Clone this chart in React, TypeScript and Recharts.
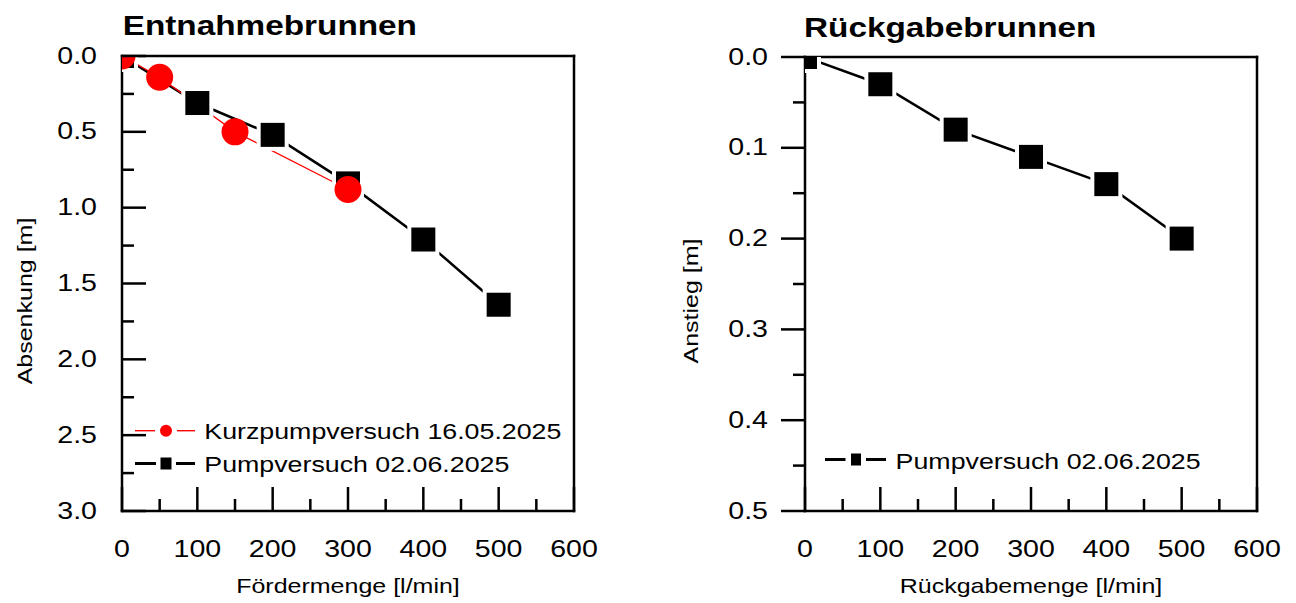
import { Legend, Line, LineChart, XAxis, YAxis } from "recharts"

const FONT = '"Liberation Sans", Arial, sans-serif'
// the source lettering is a wide Arial, about 1.19x wider than normal
const STRETCH = 1.19

// Entnahmebrunnen
const shortTestRates = [0, 50, 150, 300]
const shortTestDrawdown = [0, 0.14, 0.5, 0.88]
const pumpRates = [0, 100, 200, 300, 400, 500]
const pumpDrawdown = [0, 0.31, 0.52, 0.84, 1.21, 1.64]

// Rückgabebrunnen
const returnRates = [0, 100, 200, 300, 400, 500]
const returnRise = [0, 0.03, 0.08, 0.11, 0.14, 0.2]

const rateTicks = [0, 50, 100, 150, 200, 250, 300, 350, 400, 450, 500, 550, 600]
const drawdownTicks = [0, 0.25, 0.5, 0.75, 1, 1.25, 1.5, 1.75, 2, 2.25, 2.5, 2.75, 3]
const riseTicks = [0, 0.05, 0.1, 0.15, 0.2, 0.25, 0.3, 0.35, 0.4, 0.45, 0.5]

const shortTestLabel = "Kurzpumpversuch 16.05.2025"
const pumpTestLabel = "Pumpversuch 02.06.2025"

const shortTestData = shortTestRates.map((x, i) => ({ x, y: shortTestDrawdown[i] }))
const pumpData = pumpRates.map((x, i) => ({ x, y: pumpDrawdown[i] }))
const returnData = returnRates.map((x, i) => ({ x, y: returnRise[i] }))

type TxtProps = {
  x: number
  y: number
  size: number
  anchor?: "start" | "middle" | "end"
  bold?: boolean
  rotate?: number
  children: string
}

function Txt({ x, y, size, anchor = "start", bold, rotate = 0, children }: TxtProps) {
  return (
    <text
      transform={`translate(${x} ${y}) rotate(${rotate}) scale(${STRETCH} 1)`}
      textAnchor={anchor}
      fontSize={size}
      fontWeight={bold ? 700 : 400}
      fontFamily={FONT}
      fill="#000"
    >
      {children}
    </text>
  )
}

type Side = "bottom" | "top" | "left" | "right"

function tickRenderer(side: Side, step: number, labels: boolean, outward = false, labelGap = 25) {
  return (props: any) => {
    const { x, y, payload } = props
    const v = Number(payload.value)
    const major = Math.abs(v / step - Math.round(v / step)) < 1e-6
    const len = major ? 24 : 12
    let x2 = x
    let y2 = y
    if (side === "bottom") y2 = y - len
    else if (side === "top") y2 = y + len
    else if (side === "left") x2 = outward ? x - len : x + len
    else x2 = x - len

    let label = null
    if (labels && major) {
      if (side === "bottom") {
        label = <Txt x={x} y={y + 46} size={24} anchor="middle">{String(v)}</Txt>
      } else if (side === "left") {
        label = <Txt x={x - labelGap} y={y + 7.5} size={24} anchor="end">{v.toFixed(1)}</Txt>
      }
    }
    return (
      <g>
        <line x1={x} y1={y} x2={x2} y2={y2} stroke="#000" strokeWidth={2.5} />
        {label}
      </g>
    )
  }
}

function squareDot(size: number) {
  return (p: any) => {
    if (p.cx == null || p.cy == null) return <g key={p.index} />
    const gap = 4
    return (
      <g key={p.index}>
        <rect x={p.cx - size / 2 - gap} y={p.cy - size / 2 - gap} width={size + gap * 2} height={size + gap * 2} fill="#fff" />
        <rect x={p.cx - size / 2} y={p.cy - size / 2} width={size} height={size} fill="#000" />
      </g>
    )
  }
}

const frame = { stroke: "#000", strokeWidth: 2.5, strokeLinecap: "square" as const }

function LeftLegend() {
  return (
    <svg width={470} height={80} style={{ overflow: "visible" }}>
      <line x1={15} y1={20.7} x2={35} y2={20.7} stroke="#ff0000" strokeWidth={1.4} />
      <line x1={57} y1={20.7} x2={75} y2={20.7} stroke="#ff0000" strokeWidth={1.4} />
      <circle cx={46} cy={20.7} r={6} fill="#ff0000" />
      <Txt x={84.3} y={29} size={22.5}>{shortTestLabel}</Txt>
      <line x1={15} y1={53.5} x2={36} y2={53.5} stroke="#000" strokeWidth={3} />
      <line x1={56} y1={53.5} x2={75} y2={53.5} stroke="#000" strokeWidth={3} />
      <rect x={40.5} y={47.5} width={11} height={12} fill="#000" />
      <Txt x={84.3} y={62} size={22.5}>{pumpTestLabel}</Txt>
    </svg>
  )
}

function RightLegend() {
  return (
    <svg width={420} height={40} style={{ overflow: "visible" }}>
      <line x1={7} y1={19.5} x2={27.5} y2={19.5} stroke="#000" strokeWidth={3} />
      <line x1={48} y1={19.5} x2={68} y2={19.5} stroke="#000" strokeWidth={3} />
      <rect x={33} y={13.5} width={10} height={12} fill="#000" />
      <Txt x={77.6} y={29} size={22.5}>{pumpTestLabel}</Txt>
    </svg>
  )
}

export default function App() {
  return (
    <div style={{ position: "absolute", left: 0, top: 0, width: 1296, height: 603, background: "#fff" }}>
      <div style={{ position: "absolute", left: 0, top: 0 }}>
        <LineChart width={648} height={603} margin={{ top: 55, right: 73, bottom: 91, left: 121 }}>
          <Line
            data={pumpData}
            dataKey="y"
            name={pumpTestLabel}
            type="linear"
            stroke="#000"
            strokeWidth={2.5}
            dot={squareDot(24)}
            activeDot={false}
            isAnimationActive={false}
          />
          <Line
            data={shortTestData}
            dataKey="y"
            name={shortTestLabel}
            type="linear"
            stroke="#ff0000"
            strokeWidth={1.3}
            dot={(p: any) => <circle key={p.index} cx={p.cx} cy={p.cy} r={13.5} fill="#ff0000" />}
            activeDot={false}
            isAnimationActive={false}
          />
          <XAxis
            dataKey="x"
            type="number"
            domain={[0, 600]}
            ticks={rateTicks}
            interval={0}
            allowDataOverflow
            height={1}
            tickSize={0}
            tickMargin={0}
            tickLine={false}
            axisLine={frame}
            tick={tickRenderer("bottom", 100, true)}
          />
          <XAxis
            xAxisId="top"
            orientation="top"
            dataKey="x"
            type="number"
            domain={[0, 600]}
            ticks={rateTicks}
            interval={0}
            height={1}
            tickSize={0}
            tickMargin={0}
            tickLine={false}
            axisLine={frame}
            tick={tickRenderer("top", 100, false)}
          />
          <YAxis
            type="number"
            domain={[0, 3]}
            ticks={drawdownTicks}
            interval={0}
            reversed
            allowDataOverflow
            width={1}
            tickSize={0}
            tickMargin={0}
            tickLine={false}
            axisLine={frame}
            tick={tickRenderer("left", 0.5, true, false, 25)}
          />
          <YAxis
            yAxisId="right"
            orientation="right"
            type="number"
            domain={[0, 3]}
            ticks={drawdownTicks}
            interval={0}
            reversed
            width={1}
            tickSize={0}
            tickMargin={0}
            tickLine={false}
            axisLine={frame}
            tick={tickRenderer("right", 0.5, false)}
          />
          <Legend
            layout="vertical"
            align="center"
            verticalAlign="middle"
            wrapperStyle={{ left: 120, top: 410, width: 470, height: 80 }}
            content={() => <LeftLegend />}
          />
        </LineChart>
      </div>

      <div style={{ position: "absolute", left: 648, top: 0 }}>
        <LineChart width={648} height={603} margin={{ top: 56, right: 38, bottom: 91, left: 156 }}>
          <Line
            data={returnData}
            dataKey="y"
            name={pumpTestLabel}
            type="linear"
            stroke="#000"
            strokeWidth={2.5}
            dot={squareDot(24)}
            activeDot={false}
            isAnimationActive={false}
          />
          <XAxis
            dataKey="x"
            type="number"
            domain={[0, 600]}
            ticks={rateTicks}
            interval={0}
            allowDataOverflow
            height={1}
            tickSize={0}
            tickMargin={0}
            tickLine={false}
            axisLine={frame}
            tick={tickRenderer("bottom", 100, true)}
          />
          <XAxis
            xAxisId="top"
            orientation="top"
            dataKey="x"
            type="number"
            domain={[0, 600]}
            ticks={rateTicks}
            interval={0}
            height={1}
            tickSize={0}
            tickMargin={0}
            tickLine={false}
            axisLine={frame}
            tick={tickRenderer("top", 100, false)}
          />
          <YAxis
            type="number"
            domain={[0, 0.5]}
            ticks={riseTicks}
            interval={0}
            reversed
            allowDataOverflow
            width={1}
            tickSize={0}
            tickMargin={0}
            tickLine={false}
            axisLine={frame}
            tick={tickRenderer("left", 0.1, true, true, 37)}
          />
          <YAxis
            yAxisId="right"
            orientation="right"
            type="number"
            domain={[0, 0.5]}
            ticks={riseTicks}
            interval={0}
            reversed
            width={1}
            tickSize={0}
            tickMargin={0}
            tickLine={false}
            axisLine={frame}
            tick={tickRenderer("right", 0.1, false)}
          />
          <Legend
            layout="vertical"
            align="center"
            verticalAlign="middle"
            wrapperStyle={{ left: 170, top: 440, width: 420, height: 40 }}
            content={() => <RightLegend />}
          />
        </LineChart>
      </div>

      <svg
        width={1296}
        height={603}
        style={{ position: "absolute", left: 0, top: 0, pointerEvents: "none" }}
      >
        <Txt x={122.7} y={35} size={28} bold>Entnahmebrunnen</Txt>
        <Txt x={804} y={36.5} size={28} bold>Rückgabebrunnen</Txt>
        <Txt x={348} y={593} size={21} anchor="middle">Fördermenge [l/min]</Txt>
        <Txt x={1031} y={593} size={21} anchor="middle">Rückgabemenge [l/min]</Txt>
        <Txt x={32} y={301} size={21} anchor="middle" rotate={-90}>Absenkung [m]</Txt>
        <Txt x={698} y={301} size={21} anchor="middle" rotate={-90}>Anstieg [m]</Txt>
      </svg>
    </div>
  )
}
